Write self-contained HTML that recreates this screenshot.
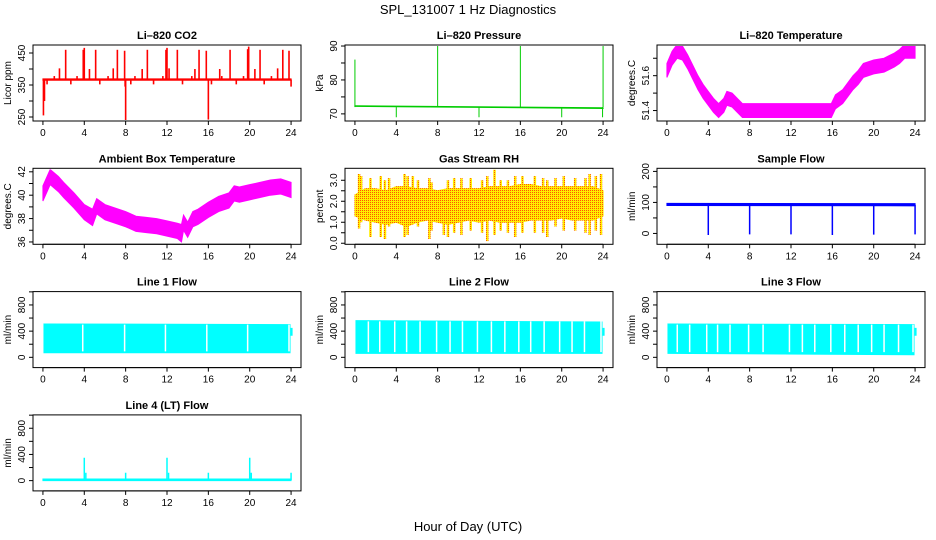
<!DOCTYPE html>
<html><head><meta charset="utf-8"><style>
html,body{margin:0;padding:0;background:#fff;}
svg{display:block;font-family:"Liberation Sans",Arial,sans-serif;}
</style></head><body>
<svg id="c" width="936" height="540" viewBox="0 0 936 540" xmlns="http://www.w3.org/2000/svg">
<defs>
<pattern id="rhpat" width="2" height="2" patternUnits="userSpaceOnUse"><rect width="2" height="2" fill="#ffee00"/><rect x="0" y="0" width="1" height="1" fill="#ff5500"/></pattern>
</defs>
<text x="468" y="14" text-anchor="middle" font-size="13">SPL_131007  1 Hz Diagnostics</text>
<text x="468" y="531" text-anchor="middle" font-size="13">Hour of Day (UTC)</text>
</svg>
<script>
// ---- data ----
const hourTicks=[0,4,8,12,16,20,24];
// CO2
const co2Base=367;
const co2SpikeHours=[0.05,0.15,2.2,3.9,4.0,5.1,7.2,7.9,7.95,8.0,10.1,11.9,12.0,13.0,15.1,15.8,16.0,18.1,19.8,19.9,21.0,23.2,23.8,1.6,4.5,6.8,9.6,12.2,14.7,17.1,20.5,22.7,1.1,3.3,6.3,8.9,11.6,14.4,17.3,19.4,22.1,0.4,2.7,5.5,8.5,10.7,13.5,16.3,18.7,21.4,24.0];
const co2SpikeVals=[255,300,460,460,466,460,460,457,345,238,460,460,466,460,460,457,242,460,462,470,460,460,457,402,400,402,400,402,400,400,400,402,378,378,378,378,378,378,378,378,378,352,352,352,352,352,352,352,352,352,345];
// Pressure
const presHours=[0,24];
const presBase=[72.3,71.7];
const presSpikeHours=[0,8,16,24,4,12,20,23.95];
const presSpikeVals=[86,90,90,90,69,69,69,69];
// Li-820 temperature
const tempH=[0,0.5,1,1.5,2,2.5,3,3.5,4,4.5,5,5.5,5.8,6.3,6.8,7.3,8,10,12,14,15.9,16.3,17,17.5,18,18.5,19,20,21,22,22.5,23,24];
const tempLo=[51.59,51.66,51.70,51.69,51.64,51.58,51.52,51.47,51.43,51.39,51.36,51.39,51.43,51.42,51.39,51.36,51.36,51.36,51.36,51.36,51.36,51.41,51.44,51.48,51.52,51.55,51.59,51.61,51.62,51.65,51.67,51.70,51.70];
const tempHi=[51.67,51.74,51.78,51.77,51.72,51.66,51.60,51.55,51.51,51.47,51.44,51.47,51.51,51.50,51.47,51.44,51.44,51.44,51.44,51.44,51.44,51.49,51.52,51.56,51.60,51.63,51.67,51.69,51.70,51.73,51.75,51.78,51.78];
// Ambient box temperature
const ambH=[0,0.7,1.5,2,3,4,4.8,5.2,6,7,8,9,10,11,12,13,13.4,13.6,14,14.5,15,16,17,18,18.5,19,20,21,22,23,24];
const ambLo=[39.5,40.9,40.3,39.8,38.9,37.9,37.4,38.4,37.9,37.6,37.3,36.9,36.8,36.7,36.5,36.3,36.0,37.0,36.4,37.3,37.5,38.1,38.6,38.9,39.5,39.4,39.6,39.8,40.0,40.1,39.8];
const ambHi=[40.8,42.2,41.6,41.1,40.2,39.2,38.8,39.7,39.2,38.9,38.6,38.2,38.1,38.0,37.8,37.6,37.5,38.3,37.7,38.6,38.8,39.4,39.9,40.2,40.8,40.7,40.9,41.1,41.3,41.4,41.1];
// Gas stream RH
const rhH=[0,1,2,3,4,5,6,7,8,9,10,11,12,13,14,15,16,17,18,19,20,21,22,23,24];
const rhLo=[1.3,1.1,1.0,0.9,1.0,0.8,1.0,1.1,1.0,0.9,1.0,1.1,1.0,1.1,1.0,1.0,1.0,1.1,1.1,1.1,1.2,1.1,1.1,1.1,1.3];
const rhHi=[2.3,2.6,2.6,2.5,2.7,2.7,2.6,2.6,2.5,2.6,2.6,2.6,2.6,2.7,2.7,2.7,2.8,2.8,2.7,2.7,2.7,2.7,2.7,2.7,2.5];
const rhSpikeHours=[0.4,0.6,1.5,2.5,2.9,3.3,4.8,5.1,5.6,6.1,7.2,7.4,8.6,9.0,9.6,10.3,11.2,12.3,12.8,13.5,14.1,14.8,15.5,16.2,17.4,18.2,18.6,19.4,20.2,21.3,22.3,22.7,23.3,23.8];
const rhSpikeLo=[0.7,1.0,0.3,0.3,0.2,0.8,0.3,0.4,0.9,0.8,0.2,0.6,0.4,0.3,0.5,0.4,0.6,0.5,0.1,0.4,0.6,0.5,0.3,0.5,0.5,0.5,0.3,0.8,0.6,0.6,0.5,0.4,0.6,0.4];
const rhSpikeHi=[3.3,3.2,3.1,3.2,3.0,3.1,3.3,3.2,3.2,3.0,3.1,2.9,2.5,3.0,3.1,3.1,3.1,3.0,3.2,3.5,3.0,3.0,3.2,3.2,3.2,3.1,3.0,3.1,3.2,3.1,3.1,3.3,3.2,3.3];
// Sample flow
const sfHours=[0,24];
const sfLo=[90,89];const sfHi=[97,96];
const sfDropHours=[4,8,12,16,20,24];
const sfDropVals=[-5,-3,-3,-5,-4,-3];
// Line flows (band lo/hi + gap hours)
const l1Lo=[70,70],l1Hi=[510,500];
const l1Gaps=[3.85,7.9,11.85,15.85,19.8,23.8];
const l2Lo=[60,60],l2Hi=[560,540];
const l2Gaps=[1.3,2.4,3.85,5.0,6.3,7.9,9.2,10.4,11.85,13.2,14.5,15.85,17.0,18.3,19.8,21.0,22.2,23.8];
const l3Lo=[60,40],l3Hi=[510,500];
const l3Gaps=[1.0,2.2,3.85,4.9,6.1,7.9,9.3,11.85,13.1,14.3,15.85,17.2,18.5,19.8,21.0,22.4,23.8];
// Line 4 flow
const l4Base=[0,25];
const l4SpikeHours=[4.0,4.15,8.0,12.0,12.15,16.0,20.0,20.15,24.0];
const l4SpikeVals=[350,120,120,350,120,120,350,120,120];

// ---- drawing ----
const NS="http://www.w3.org/2000/svg";
const svg=document.getElementById('c');
function el(tag,attrs,parent){const e=document.createElementNS(NS,tag);for(const k in attrs)e.setAttribute(k,attrs[k]);(parent||svg).appendChild(e);return e;}
let clipId=0;
function panel(col,row,title,ylab,ymin,ymax,ticks,labels,slug){
  const x0=33+312*col,w=268,y0=45+123.3*row,h=76;
  const xmin=-0.96,xmax=24.96;
  const sx=v=>x0+(v-xmin)/(xmax-xmin)*w;
  const sy=v=>y0+h-(v-ymin)/(ymax-ymin)*h;
  const g=el('g',{});
  
  
  const t=el('text',{x:x0+w/2,y:y0-6,'text-anchor':'middle','font-size':11,'font-weight':'bold'},g);
  t.textContent=title;
  
  
  const ax=el('g',{stroke:'#000','stroke-width':1,fill:'none'},g);
  
  
  el('rect',{x:x0,y:y0,width:w,height:h},ax);
  el('line',{x1:sx(0),x2:sx(24),y1:y0+h,y2:y0+h},ax);
  hourTicks.forEach(v=>{
    el('line',{x1:sx(v),x2:sx(v),y1:y0+h,y2:y0+h+4},ax);
    const tx=el('text',{x:sx(v),y:y0+h+15,'text-anchor':'middle','font-size':10,fill:'#000',stroke:'none'},g);
    tx.textContent=v;
    
    
  });
  el('line',{x1:x0,x2:x0,y1:sy(ticks[0]),y2:sy(ticks[ticks.length-1])},ax);
  ticks.forEach(v=>{el('line',{x1:x0-4,x2:x0,y1:sy(v),y2:sy(v)},ax);});
  labels.forEach(v=>{
    const yy=sy(v);
    const tx=el('text',{x:x0-8,y:yy,'text-anchor':'middle','font-size':10,transform:`rotate(-90 ${x0-8} ${yy})`},g);
    tx.textContent=(typeof v==='number'&&slug==='rh')?v.toFixed(1):v;
    
    
  });
  const yl=el('text',{x:x0-22,y:y0+h/2,'text-anchor':'middle','font-size':10,transform:`rotate(-90 ${x0-22} ${y0+h/2})`},g);
  yl.textContent=ylab;
  
  
  const cid='clip'+(clipId++);
  const cp=el('clipPath',{id:cid},g);el('rect',{x:x0+1,y:y0+1,width:w-2,height:h-2},cp);
  const dg=el('g',{'clip-path':`url(#${cid})`},g);
  
  
  return {sx,sy,g:dg};
}
function band(p,H,lo,hi,fill,name){
  const pts=H.map((h,i)=>p.sx(h)+','+p.sy(hi[i])).concat(H.slice().reverse().map((h,j)=>{const i=H.length-1-j;return p.sx(h)+','+p.sy(lo[i]);}));
  const e=el('polygon',{points:pts.join(' '),fill:fill,stroke:fill,'stroke-width':1},p.g);
  
  
}
function spikes(p,H,from,to,color,wd,name){
  H.forEach((h,i)=>{
    const a=Array.isArray(from)?from[i]:from;
    const e=el('line',{x1:p.sx(h),x2:p.sx(h),y1:p.sy(a),y2:p.sy(to[i]),stroke:color,'stroke-width':wd},p.g);
    
    
  });
}
function gaps(p,H,lo,hi,name){
  H.forEach(h=>{
    const e=el('line',{x1:p.sx(h),x2:p.sx(h),y1:p.sy(hi),y2:p.sy(lo),stroke:'#fff','stroke-width':1.5},p.g);
    
    
  });
}
let p=panel(0,0,'Li–820 CO2','Licor ppm',237.5,475,[250,300,350,400,450],[250,350,450],'co2');
band(p,[0,24],[co2Base-2,co2Base-2],[co2Base+2,co2Base+2],'#ff0000','co2-baseline');
spikes(p,co2SpikeHours,co2Base,co2SpikeVals,'#ff0000',1.6,'co2-spike');
p=panel(1,0,'Li–820 Pressure','kPa',67.9,90.3,[70,75,80,85,90],[70,80,90],'pressure');
band(p,presHours,presBase.map(v=>v-0.1),presBase.map(v=>v+0.1),'#00cc00','pressure-baseline');
spikes(p,presSpikeHours,72,presSpikeVals,'#00cc00',1,'pressure-spike');
p=panel(2,0,'Li–820 Temperature','degrees.C',51.34,51.776,[51.4,51.5,51.6,51.7],['51.4','51.6'],'li820-temp');
band(p,tempH,tempLo,tempHi,'#ff00ff','li820-temp-band');
p=panel(0,1,'Ambient Box Temperature','degrees.C',35.8,42.3,[36,37,38,39,40,41,42],[36,38,40,42],'ambient-temp');
band(p,ambH,ambLo,ambHi,'#ff00ff','ambient-temp-band');
p=panel(1,1,'Gas Stream RH','percent',-0.05,3.57,[0,0.5,1,1.5,2,2.5,3],[0,1,2,3],'rh');
band(p,rhH,rhLo,rhHi,'url(#rhpat)','rh-band');
spikes(p,rhSpikeHours,rhSpikeLo,rhSpikeHi,'url(#rhpat)',2.5,'rh-spike');
p=panel(2,1,'Sample Flow','ml/min',-35,210,[0,50,100,150,200],[0,100,200],'sample-flow');
band(p,sfHours,sfLo,sfHi,'#0000ff','sample-flow-band');
spikes(p,sfDropHours,92,sfDropVals,'#0000ff',1.5,'sample-flow-drop');
[[0,'Line 1 Flow',l1Lo,l1Hi,l1Gaps,'line1-flow'],[1,'Line 2 Flow',l2Lo,l2Hi,l2Gaps,'line2-flow'],[2,'Line 3 Flow',l3Lo,l3Hi,l3Gaps,'line3-flow']].forEach(d=>{
  const q=panel(d[0],2,d[1],'ml/min',-157,1004,[0,200,400,600,800,1000],[0,400,800],d[5]);
  band(q,[0.1,23.9],d[2],d[3],'#00ffff',d[5]+'-band');
  gaps(q,d[4],d[2][0]+20,d[3][0]-10,d[5]+'-gap');
  const e=el('line',{x1:q.sx(24.05),x2:q.sx(24.05),y1:q.sy(450),y2:q.sy(330),stroke:'#00ffff','stroke-width':2},q.g);
  
  
});
p=panel(0,3,'Line 4 (LT) Flow','ml/min',-157,1004,[0,200,400,600,800,1000],[0,400,800],'line4-flow');
band(p,[0,24],[l4Base[0],l4Base[0]],[l4Base[1],l4Base[1]],'#00ffff','line4-flow-baseline');
spikes(p,l4SpikeHours,10,l4SpikeVals,'#00ffff',1.5,'line4-flow-spike');
</script>
</body></html>
